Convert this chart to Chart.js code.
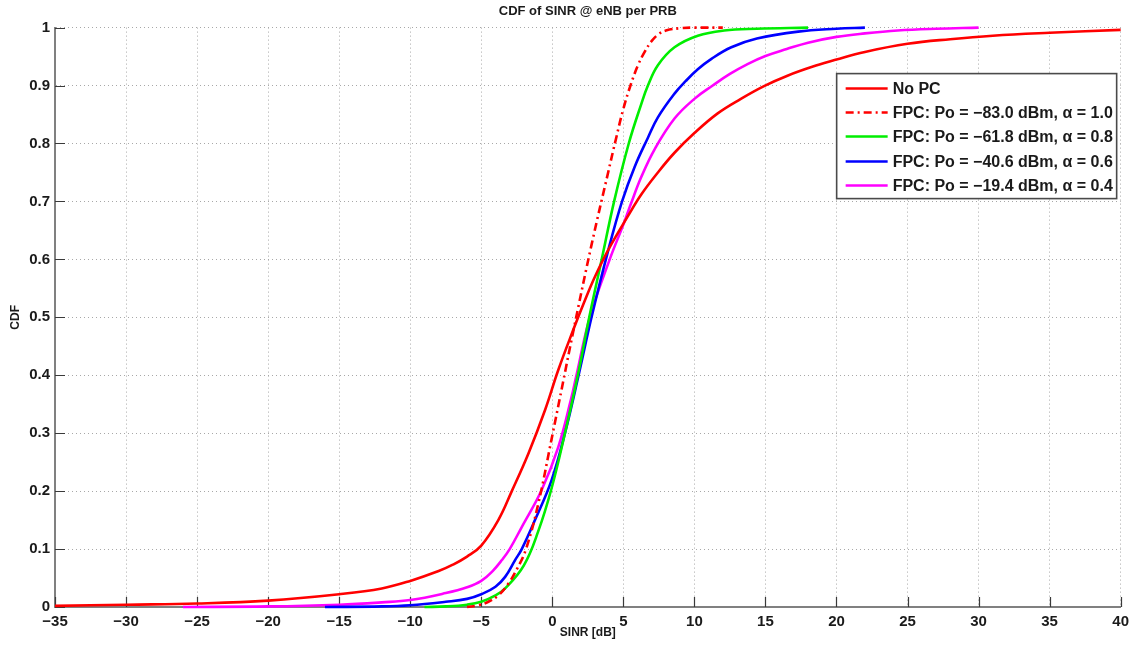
<!DOCTYPE html>
<html>
<head>
<meta charset="utf-8">
<title>CDF of SINR @ eNB per PRB</title>
<script src="https://cdn.jsdelivr.net/npm/chart.js@4/dist/chart.umd.min.js"></script>
<style>
  html, body { margin: 0; padding: 0; background: #ffffff; }
  #wrap { width: 1135px; height: 647px; }
</style>
</head>
<body>
<div id="wrap"><canvas id="cdf" width="1135" height="647"></canvas></div>
<script>
// Axis tick values and their printed labels
const xTickValues = [-35, -30, -25, -20, -15, -10, -5, 0, 5, 10, 15, 20, 25, 30, 35, 40];
const xTickLabels = ['\u221235', '\u221230', '\u221225', '\u221220', '\u221215', '\u221210', '\u22125', '0',
                     '5', '10', '15', '20', '25', '30', '35', '40'];
const yTickValues = [0, 0.1, 0.2, 0.3, 0.4, 0.5, 0.6, 0.7, 0.8, 0.9, 1];
const yTickLabels = ['0', '0.1', '0.2', '0.3', '0.4', '0.5', '0.6', '0.7', '0.8', '0.9', '1'];

// Series names and colours
const seriesLabels = [
  'No PC',
  'FPC: Po = \u221283.0 dBm, \u03b1 = 1.0',
  'FPC: Po = \u221261.8 dBm, \u03b1 = 0.8',
  'FPC: Po = \u221240.6 dBm, \u03b1 = 0.6',
  'FPC: Po = \u221219.4 dBm, \u03b1 = 0.4'
];
const seriesColors = ['#ff0000', '#ff0000', '#00ee00', '#0000ff', '#ff00ff'];

// No power control: SINR [dB] vs CDF
const noPcX = [-35, -30, -25, -20, -15, -12, -10, -8, -7, -6, -5, -3.8, -2.85, -1.68, -0.51, 0.42, 1.47,
               2.29, 3.0, 3.93, 5.33, 6.26, 7.43, 8.6, 10.0, 11.64, 13.27, 14.9, 16.55, 18.5, 20, 22, 25,
               28, 31, 35, 40];
const noPcY = [0.002, 0.004, 0.006, 0.011, 0.022, 0.032, 0.045, 0.062, 0.073, 0.087, 0.106, 0.15, 0.2,
               0.265, 0.34, 0.409, 0.478, 0.529, 0.57, 0.616, 0.675, 0.712, 0.75, 0.784, 0.818, 0.852,
               0.877, 0.899, 0.917, 0.934, 0.945, 0.958, 0.972, 0.98, 0.986, 0.991, 0.996];

// FPC, Po = -83.0 dBm, alpha = 1.0
const fpc10X = [-6, -5.2, -4.5, -3.8, -3.1, -2.5, -1.85, -0.98, -0.05, 0.65, 1.47, 2.76, 3.93, 4.5, 4.98,
                5.5, 6.03, 6.5, 7.0, 7.5, 8.0, 9, 10, 12];
const fpc10Y = [0, 0.003, 0.009, 0.02, 0.04, 0.065, 0.1, 0.179, 0.29, 0.375, 0.475, 0.625, 0.75, 0.81,
                0.858, 0.9, 0.935, 0.958, 0.977, 0.989, 0.995, 0.999, 1, 1];

// FPC, Po = -61.8 dBm, alpha = 0.8
const fpc08X = [-9, -7.5, -6, -5, -4, -3.32, -2.0, -1.0, -0.05, 0.89, 1.82, 2.6, 3.46, 4.35, 5.38, 6.26,
                6.73, 7.43, 8.6, 10.24, 12.1, 14.4, 18];
const fpc08Y = [0, 0.001, 0.004, 0.009, 0.02, 0.032, 0.072, 0.13, 0.205, 0.3, 0.403, 0.5, 0.598, 0.7, 0.8,
                0.868, 0.9, 0.935, 0.966, 0.986, 0.995, 0.998, 1];

// FPC, Po = -40.6 dBm, alpha = 0.6
const fpc06X = [-16, -12, -10, -7.5, -6, -5, -4, -3.32, -2.62, -2.15, -1.22, -0.05, 0.89, 1.85, 2.76, 3.93,
                4.91, 5.8, 6.73, 7.43, 8.6, 9.4, 10.24, 11.2, 12.6, 14.4, 17.3, 20, 22];
const fpc06Y = [0, 0.001, 0.003, 0.009, 0.014, 0.022, 0.035, 0.052, 0.081, 0.1, 0.15, 0.219, 0.3, 0.4, 0.5,
                0.615, 0.7, 0.76, 0.81, 0.845, 0.886, 0.908, 0.928, 0.946, 0.966, 0.981, 0.993, 0.998, 1];

// FPC, Po = -19.4 dBm, alpha = 0.4
const fpc04X = [-26, -20, -15, -12, -10, -7.5, -6, -5, -4.2, -3.55, -3.0, -2.15, -0.75, 0.42, 1.35, 1.7,
                2.64, 4.04, 5.0, 5.52, 6.26, 7.2, 8.6, 10.0, 11.29, 12.5, 13.74, 15, 16.5, 18, 20, 22, 24.3,
                27, 30];
const fpc04Y = [0, 0.001, 0.004, 0.008, 0.012, 0.024, 0.034, 0.045, 0.062, 0.081, 0.1, 0.138, 0.202, 0.276,
                0.362, 0.4, 0.5, 0.6, 0.66, 0.695, 0.742, 0.79, 0.843, 0.877, 0.9, 0.92, 0.937, 0.951, 0.963,
                0.974, 0.984, 0.99, 0.995, 0.998, 1];

const seriesX = [noPcX, fpc10X, fpc08X, fpc06X, fpc04X];
const seriesY = [noPcY, fpc10Y, fpc08Y, fpc06Y, fpc04Y];

const FONT = "'Liberation Sans', Arial, Helvetica, sans-serif";
const TEXT = '#1a1a1a';

const datasets = seriesLabels.map((label, i) => ({
  label: label,
  data: seriesX[i].map((x, k) => ({ x: x, y: seriesY[i][k] })),
  borderColor: seriesColors[i],
  backgroundColor: seriesColors[i],
  borderWidth: 2.6,
  borderDash: i === 1 ? [8, 4, 2, 4] : [],
  pointRadius: 0,
  fill: false,
  tension: 0.4,
  clip: 6
}));

// Short tick marks drawn on the inner side of the left and bottom axes
const innerTicks = {
  id: 'innerTicks',
  beforeDatasetsDraw(chart) {
    const { ctx, chartArea: a, scales } = chart;
    const len = 10;
    ctx.save();
    ctx.strokeStyle = '#3a3a3a';
    ctx.lineWidth = 1.2;
    ctx.beginPath();
    scales.x.ticks.forEach(t => {
      const px = Math.round(scales.x.getPixelForValue(t.value)) + 0.5;
      ctx.moveTo(px, a.bottom);
      ctx.lineTo(px, a.bottom - len);
    });
    scales.y.ticks.forEach(t => {
      const py = Math.round(scales.y.getPixelForValue(t.value)) + 0.5;
      ctx.moveTo(a.left, py);
      ctx.lineTo(a.left + len, py);
    });
    ctx.stroke();
    ctx.restore();
  }
};

// Boxed legend in the upper right of the plot area
const boxLegend = {
  id: 'boxLegend',
  afterDraw(chart) {
    const { ctx, chartArea: a } = chart;
    const w = 280, h = 125;
    const left = a.right - 284, top = a.top + 46;
    ctx.save();
    ctx.fillStyle = '#ffffff';
    ctx.fillRect(left, top, w, h);
    ctx.lineWidth = 1.6;
    ctx.strokeStyle = '#4a4a4a';
    ctx.strokeRect(left, top, w, h);
    ctx.font = "bold 16px " + FONT;
    ctx.textBaseline = 'middle';
    ctx.textAlign = 'left';
    chart.data.datasets.forEach((ds, i) => {
      const y = Math.round(top + 14 + i * 24.4) + 0.5;
      ctx.beginPath();
      ctx.setLineDash(ds.borderDash || []);
      ctx.lineWidth = ds.borderWidth;
      ctx.strokeStyle = ds.borderColor;
      ctx.moveTo(left + 9, y);
      ctx.lineTo(left + 51, y);
      ctx.stroke();
      ctx.setLineDash([]);
      ctx.fillStyle = TEXT;
      ctx.fillText(ds.label, left + 56, y + 1);
    });
    ctx.restore();
  }
};

new Chart(document.getElementById('cdf'), {
  type: 'line',
  data: { datasets: datasets },
  options: {
    responsive: false,
    devicePixelRatio: 1,
    animation: false,
    layout: { padding: { left: 0, right: 12, top: 0, bottom: 0 } },
    plugins: {
      legend: { display: false },
      tooltip: { enabled: false },
      title: {
        display: true,
        fullSize: false,
        text: 'CDF of SINR @ eNB per PRB',
        color: TEXT,
        font: { family: FONT, size: 13, weight: 'bold' },
        padding: { top: 4, bottom: 8 }
      }
    },
    scales: {
      x: {
        type: 'linear',
        min: -35,
        max: 40,
        afterBuildTicks: s => { s.ticks = xTickValues.map(v => ({ value: v })); },
        afterFit: s => { s.height = 40; },
        ticks: {
          autoSkip: false,
          maxRotation: 0,
          padding: 6,
          color: TEXT,
          font: { family: FONT, size: 15, weight: 'bold' },
          callback: v => xTickLabels[xTickValues.indexOf(v)]
        },
        grid: { color: '#a8a8a8', lineWidth: 1, drawTicks: false },
        border: { display: true, color: '#808080', width: 2, dash: [1, 3] },
        title: {
          display: true,
          text: 'SINR [dB]',
          color: TEXT,
          font: { family: FONT, size: 12, weight: 'bold' },
          padding: { top: 0, bottom: 7 }
        }
      },
      y: {
        type: 'linear',
        min: 0,
        max: 1,
        afterBuildTicks: s => { s.ticks = yTickValues.map(v => ({ value: v })); },
        afterFit: s => { s.width = 55; },
        ticks: {
          autoSkip: false,
          padding: 5,
          color: TEXT,
          font: { family: FONT, size: 15, weight: 'bold' },
          callback: v => yTickLabels[yTickValues.indexOf(v)]
        },
        grid: { color: '#a8a8a8', lineWidth: 1, drawTicks: false },
        border: { display: true, color: '#808080', width: 2, dash: [1, 3] },
        title: {
          display: true,
          text: 'CDF',
          color: TEXT,
          font: { family: FONT, size: 12, weight: 'bold' },
          padding: { top: 8, bottom: 0 }
        }
      }
    }
  },
  plugins: [innerTicks, boxLegend]
});
</script>
</body>
</html>
